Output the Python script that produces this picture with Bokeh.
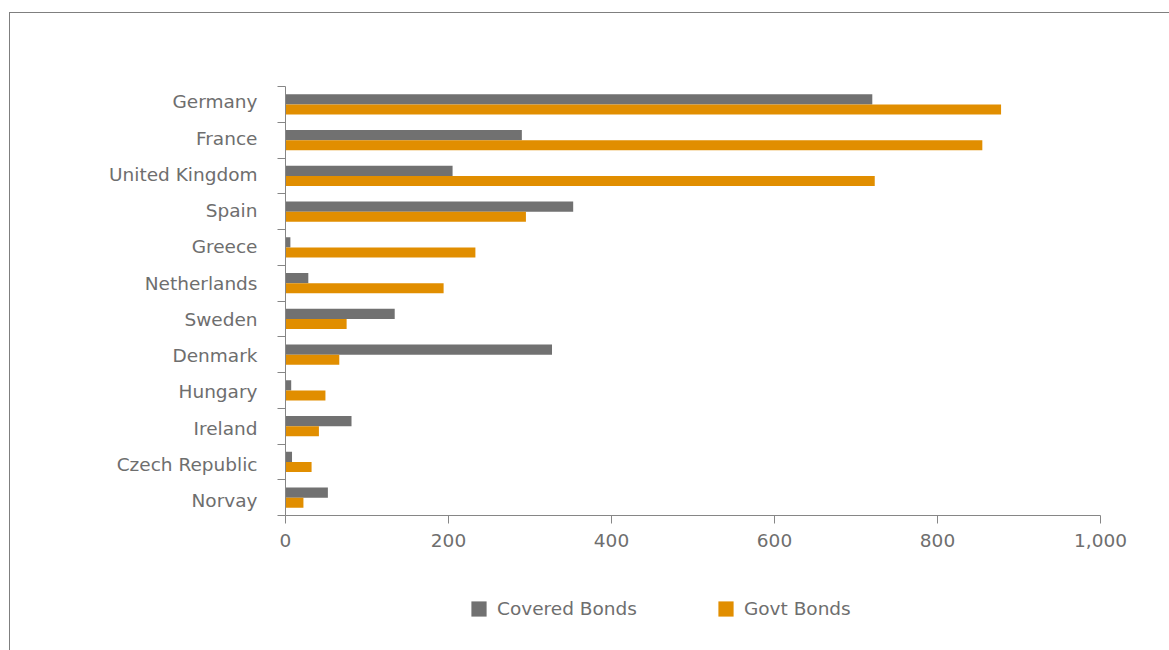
import numpy as np
from bokeh.plotting import figure
from bokeh.layouts import column
from bokeh.models import (Range1d, FixedTicker, NumeralTickFormatter, Legend, LegendItem,
                          ColumnDataSource, InlineStyleSheet)
from bokeh.embed import file_html
from bokeh.resources import INLINE

categories = ["Germany", "France", "United Kingdom", "Spain", "Greece", "Netherlands",
              "Sweden", "Denmark", "Hungary", "Ireland", "Czech Republic", "Norvay"]
covered_bonds = [720, 290, 205, 353, 6, 28, 134, 327, 7, 81, 8, 52]
govt_bonds = [878, 855, 723, 295, 233, 194, 75, 66, 49, 41, 32, 22]
x_ticks = [0, 200, 400, 600, 800, 1000]
series_names = ["Covered Bonds", "Govt Bonds"]

GRAY = "#717171"
ORANGE = "#E18E00"
TEXT = "#6e6e6e"
AXIS = "#868686"
FONT = "DejaVu Sans"
FS = "18.5px"

n = len(categories)
centers = [n - 1 - i + 0.5 for i in range(n)]
src = ColumnDataSource(dict(
    cat=categories,
    yc=[c + 0.14 for c in centers],
    yg=[c - 0.14 for c in centers],
    cov=covered_bonds,
    gov=govt_bonds,
))

p = figure(width=1169, height=560, output_backend="svg", toolbar_location=None,
           x_range=Range1d(0, 1000), y_range=Range1d(0, n),
           min_border_left=285, min_border_right=69, min_border_top=86, min_border_bottom=45)
p.outline_line_color = None
p.grid.visible = False
p.background_fill_color = None
p.border_fill_color = None

p.hbar(y="yc", right="cov", left=0, height=0.28, source=src,
       fill_color=GRAY, line_color=None)
p.hbar(y="yg", right="gov", left=0, height=0.28, source=src,
       fill_color=ORANGE, line_color=None)

# y axis: boundary ticks as minor ticks, category labels near band centres
# (labels drift slightly, as in the original renderer)
label_pos = [c + (2.5 - 5.5 * i / (n - 1)) / 35.75 for i, c in enumerate(centers)]
ya = p.yaxis[0]
ya.ticker = FixedTicker(ticks=label_pos, minor_ticks=list(range(n + 1)))
ya.major_label_overrides = {lp: cat for lp, cat in zip(label_pos, categories)}
ya.major_tick_line_color = None
ya.major_tick_out = 0
ya.major_tick_in = 0
ya.minor_tick_out = 8
ya.minor_tick_in = 0
ya.minor_tick_line_color = AXIS
ya.axis_line_color = AXIS
ya.major_label_standoff = 20
ya.major_label_text_font = FONT
ya.major_label_text_font_size = FS
ya.major_label_text_color = TEXT

# x axis
xa = p.xaxis[0]
xa.ticker = FixedTicker(ticks=x_ticks)
xa.formatter = NumeralTickFormatter(format="0,0")
xa.minor_tick_line_color = None
xa.major_tick_out = 8
xa.major_tick_in = 0
xa.major_tick_line_color = AXIS
xa.axis_line_color = AXIS
xa.major_label_standoff = 10
xa.major_label_text_font = FONT
xa.major_label_text_font_size = FS
xa.major_label_text_color = TEXT

# legend strip (frame aligned with the main plot's frame); its two
# zero-height renderers only supply the legend swatches
p2 = figure(width=1169, height=90, output_backend="svg", toolbar_location=None,
            x_range=Range1d(0, 1000), y_range=Range1d(0, n),
            x_axis_location=None, y_axis_location=None,
            min_border_left=285, min_border_right=69, min_border_top=0, min_border_bottom=0)
p2.outline_line_color = None
p2.grid.visible = False
p2.background_fill_color = None
p2.border_fill_color = None
l1 = p2.hbar(y="yc", right="cov", left=0, height=0, source=src,
             fill_color=GRAY, line_color=None)
l2 = p2.hbar(y="yg", right="gov", left=0, height=0, source=src,
             fill_color=ORANGE, line_color=None)
legend = Legend(items=[LegendItem(label=series_names[0], renderers=[l1]),
                       LegendItem(label=series_names[1], renderers=[l2])],
                orientation="horizontal", location=(184, 31),
                padding=0, margin=0, spacing=79, glyph_width=19, glyph_height=19,
                label_standoff=9, label_text_font=FONT, label_text_font_size=FS,
                label_text_color=TEXT, border_line_color=None, background_fill_alpha=0)
p2.add_layout(legend, "center")

layout = column(p, p2, spacing=0, stylesheets=[InlineStyleSheet(css="""
:host { position: relative; background: white; }
:host::after {
  content: ""; position: absolute; left: 9px; top: 12px;
  width: calc(100% - 9px); height: calc(100% - 12px);
  border-left: 1.5px solid #7f7f7f; border-top: 1.5px solid #7f7f7f;
  box-sizing: border-box; pointer-events: none;
}
""")])

open("out.html", "w").write(file_html(layout, INLINE))
